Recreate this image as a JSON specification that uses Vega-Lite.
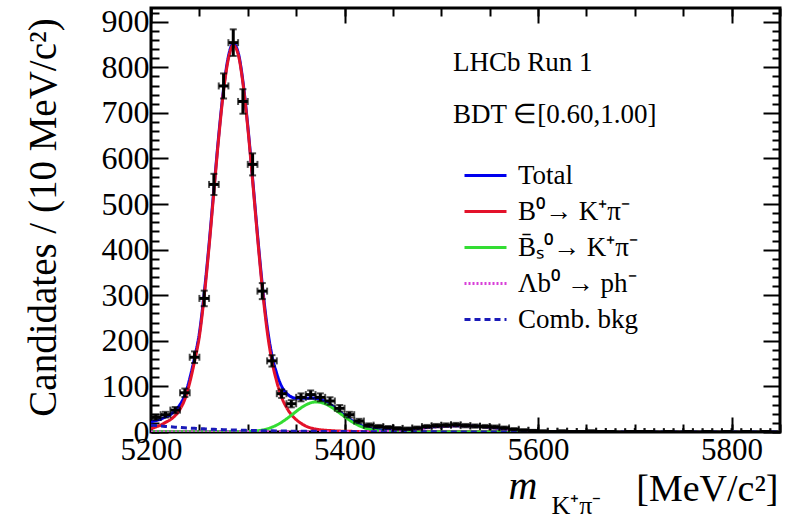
{
  "$schema": "https://vega.github.io/schema/vega-lite/v6.json",
  "width": 629,
  "height": 424,
  "autosize": {"type": "none"},
  "padding": {"left": 151, "top": 8, "right": 12, "bottom": 89},
  "background": "white",
  "config": {
    "font": "Liberation Serif",
    "view": {"stroke": "black", "strokeWidth": 3},
    "style": {"guide-label": {"font": "Liberation Serif", "fill": "black"}, "guide-title": {"font": "Liberation Serif", "fill": "black", "fontWeight": "normal"}},
    "axis": {"domain": false, "grid": false, "tickColor": "black", "tickWidth": 2, "labelColor": "black", "titleColor": "black", "labelFont": "Liberation Serif", "titleFont": "Liberation Serif", "titleFontWeight": "normal", "format": "d"},
    "legend": {"labelFont": "Liberation Serif", "titleFont": "Liberation Serif"}
  },
  "resolve": {"axis": {"x": "independent", "y": "independent"}},
  "datasets": {
    "curves": [
      {"m": 5200, "total": 22, "b0": 7, "bs": 0, "lb": 0, "comb": 15},
      {"m": 5205, "total": 25, "b0": 11, "bs": 0, "lb": 0, "comb": 14},
      {"m": 5210, "total": 28, "b0": 15, "bs": 0, "lb": 0, "comb": 13},
      {"m": 5215, "total": 33, "b0": 21, "bs": 0, "lb": 0, "comb": 12.2},
      {"m": 5220, "total": 38, "b0": 27, "bs": 0, "lb": 0, "comb": 11.4},
      {"m": 5225, "total": 47, "b0": 36, "bs": 0, "lb": 0, "comb": 10.6},
      {"m": 5230, "total": 60, "b0": 50, "bs": 0, "lb": 0, "comb": 9.9},
      {"m": 5235, "total": 81, "b0": 72, "bs": 0, "lb": 0, "comb": 9.2},
      {"m": 5240, "total": 117, "b0": 108, "bs": 0, "lb": 0, "comb": 8.6},
      {"m": 5245, "total": 163, "b0": 155, "bs": 0, "lb": 0, "comb": 8},
      {"m": 5250, "total": 217, "b0": 210, "bs": 0, "lb": 0, "comb": 7.4},
      {"m": 5255, "total": 305, "b0": 298, "bs": 0, "lb": 0, "comb": 6.9},
      {"m": 5260, "total": 412, "b0": 406, "bs": 0, "lb": 0, "comb": 6.4},
      {"m": 5265, "total": 533, "b0": 527, "bs": 0, "lb": 0, "comb": 5.9},
      {"m": 5270, "total": 651, "b0": 646, "bs": 0, "lb": 0, "comb": 5.5},
      {"m": 5275, "total": 753, "b0": 748, "bs": 0, "lb": 0, "comb": 5.1},
      {"m": 5280, "total": 824, "b0": 819, "bs": 0, "lb": 0, "comb": 4.7},
      {"m": 5285, "total": 852, "b0": 848, "bs": 0.1, "lb": 0, "comb": 4.4},
      {"m": 5290, "total": 833, "b0": 829, "bs": 0.2, "lb": 0, "comb": 4.1},
      {"m": 5295, "total": 769, "b0": 765, "bs": 0.4, "lb": 0, "comb": 3.8},
      {"m": 5300, "total": 672, "b0": 668, "bs": 0.8, "lb": 0, "comb": 3.5},
      {"m": 5305, "total": 556, "b0": 551, "bs": 1.4, "lb": 0, "comb": 3.3},
      {"m": 5310, "total": 435, "b0": 429, "bs": 2.6, "lb": 0, "comb": 3.1},
      {"m": 5315, "total": 323, "b0": 316, "bs": 4.3, "lb": 0, "comb": 2.9},
      {"m": 5320, "total": 232, "b0": 222, "bs": 6.9, "lb": 0, "comb": 2.7},
      {"m": 5325, "total": 168, "b0": 155, "bs": 10.5, "lb": 0, "comb": 2.5},
      {"m": 5330, "total": 128, "b0": 110, "bs": 15.3, "lb": 0, "comb": 2.3},
      {"m": 5335, "total": 100, "b0": 76, "bs": 21.4, "lb": 0, "comb": 2.2},
      {"m": 5340, "total": 85, "b0": 54, "bs": 28.7, "lb": 0, "comb": 2},
      {"m": 5345, "total": 77, "b0": 38, "bs": 36.7, "lb": 0, "comb": 1.9},
      {"m": 5350, "total": 74, "b0": 27, "bs": 45, "lb": 0, "comb": 1.8},
      {"m": 5355, "total": 74, "b0": 19, "bs": 52.9, "lb": 0, "comb": 1.7},
      {"m": 5360, "total": 74, "b0": 13, "bs": 59.4, "lb": 0, "comb": 1.6},
      {"m": 5365, "total": 74.5, "b0": 9, "bs": 64, "lb": 0, "comb": 1.5},
      {"m": 5370, "total": 74, "b0": 6.5, "bs": 66, "lb": 0, "comb": 1.4},
      {"m": 5375, "total": 71.4, "b0": 5, "bs": 65.1, "lb": 0, "comb": 1.3},
      {"m": 5380, "total": 67, "b0": 4, "bs": 61.9, "lb": 0, "comb": 1.2},
      {"m": 5385, "total": 60.7, "b0": 3.2, "bs": 56.4, "lb": 0, "comb": 1.1},
      {"m": 5390, "total": 53, "b0": 2.5, "bs": 49.4, "lb": 0, "comb": 1},
      {"m": 5395, "total": 44.7, "b0": 2, "bs": 41.6, "lb": 0.1, "comb": 1},
      {"m": 5400, "total": 36.4, "b0": 1.7, "bs": 33.7, "lb": 0.1, "comb": 0.9},
      {"m": 5405, "total": 28.8, "b0": 1.5, "bs": 26.2, "lb": 0.2, "comb": 0.85},
      {"m": 5410, "total": 21.8, "b0": 1.3, "bs": 19.5, "lb": 0.2, "comb": 0.8},
      {"m": 5415, "total": 16.2, "b0": 1.1, "bs": 14, "lb": 0.3, "comb": 0.75},
      {"m": 5420, "total": 11.9, "b0": 1, "bs": 9.7, "lb": 0.5, "comb": 0.7},
      {"m": 5425, "total": 8.8, "b0": 0.9, "bs": 6.5, "lb": 0.7, "comb": 0.65},
      {"m": 5430, "total": 6.5, "b0": 0.8, "bs": 4.1, "lb": 1, "comb": 0.6},
      {"m": 5435, "total": 5.1, "b0": 0.7, "bs": 2.6, "lb": 1.2, "comb": 0.55},
      {"m": 5440, "total": 4.2, "b0": 0.65, "bs": 1.5, "lb": 1.5, "comb": 0.5},
      {"m": 5445, "total": 4, "b0": 0.6, "bs": 0.9, "lb": 2, "comb": 0.48},
      {"m": 5450, "total": 3.9, "b0": 0.5, "bs": 0.45, "lb": 2.5, "comb": 0.45},
      {"m": 5460, "total": 5, "b0": 0.45, "bs": 0.1, "lb": 4, "comb": 0.4},
      {"m": 5470, "total": 6.8, "b0": 0.4, "bs": 0, "lb": 6, "comb": 0.36},
      {"m": 5480, "total": 8.7, "b0": 0.35, "bs": 0, "lb": 8, "comb": 0.33},
      {"m": 5490, "total": 11.1, "b0": 0.3, "bs": 0, "lb": 10.5, "comb": 0.3},
      {"m": 5500, "total": 12.5, "b0": 0.25, "bs": 0, "lb": 12, "comb": 0.27},
      {"m": 5510, "total": 13.5, "b0": 0.22, "bs": 0, "lb": 13, "comb": 0.24},
      {"m": 5520, "total": 13.9, "b0": 0.2, "bs": 0, "lb": 13.5, "comb": 0.22},
      {"m": 5530, "total": 13.4, "b0": 0.18, "bs": 0, "lb": 13, "comb": 0.2},
      {"m": 5540, "total": 12.3, "b0": 0.16, "bs": 0, "lb": 12, "comb": 0.18},
      {"m": 5550, "total": 10.3, "b0": 0.15, "bs": 0, "lb": 10, "comb": 0.16},
      {"m": 5560, "total": 8.3, "b0": 0.14, "bs": 0, "lb": 8, "comb": 0.15},
      {"m": 5570, "total": 5.8, "b0": 0.13, "bs": 0, "lb": 5.5, "comb": 0.13},
      {"m": 5580, "total": 3.7, "b0": 0.12, "bs": 0, "lb": 3.5, "comb": 0.12},
      {"m": 5590, "total": 2.2, "b0": 0.11, "bs": 0, "lb": 2, "comb": 0.11},
      {"m": 5600, "total": 1.2, "b0": 0.1, "bs": 0, "lb": 1, "comb": 0.1},
      {"m": 5620, "total": 0.5, "b0": 0.08, "bs": 0, "lb": 0.3, "comb": 0.08},
      {"m": 5650, "total": 0.2, "b0": 0.06, "bs": 0, "lb": 0.05, "comb": 0.06},
      {"m": 5700, "total": 0.1, "b0": 0.04, "bs": 0, "lb": 0, "comb": 0.04},
      {"m": 5750, "total": 0.06, "b0": 0.03, "bs": 0, "lb": 0, "comb": 0.03},
      {"m": 5800, "total": 0.04, "b0": 0.02, "bs": 0, "lb": 0, "comb": 0.02},
      {"m": 5850, "total": 0.02, "b0": 0.01, "bs": 0, "lb": 0, "comb": 0.01}
    ],
    "points": [
      {"m": 5205, "mlo": 5200, "mhi": 5210, "n": 32, "lo": 26.3, "hi": 37.7},
      {"m": 5215, "mlo": 5210, "mhi": 5220, "n": 38, "lo": 31.8, "hi": 44.2},
      {"m": 5225, "mlo": 5220, "mhi": 5230, "n": 48, "lo": 41.1, "hi": 54.9},
      {"m": 5235, "mlo": 5230, "mhi": 5240, "n": 86, "lo": 76.7, "hi": 95.3},
      {"m": 5245, "mlo": 5240, "mhi": 5250, "n": 164, "lo": 151.2, "hi": 176.8},
      {"m": 5255, "mlo": 5250, "mhi": 5260, "n": 293, "lo": 275.9, "hi": 310.1},
      {"m": 5265, "mlo": 5260, "mhi": 5270, "n": 543, "lo": 519.7, "hi": 566.3},
      {"m": 5275, "mlo": 5270, "mhi": 5280, "n": 759, "lo": 731.5, "hi": 786.5},
      {"m": 5285, "mlo": 5280, "mhi": 5290, "n": 854, "lo": 824.8, "hi": 883.2},
      {"m": 5295, "mlo": 5290, "mhi": 5300, "n": 725, "lo": 698.1, "hi": 751.9},
      {"m": 5305, "mlo": 5300, "mhi": 5310, "n": 587, "lo": 562.8, "hi": 611.2},
      {"m": 5315, "mlo": 5310, "mhi": 5320, "n": 309, "lo": 291.4, "hi": 326.6},
      {"m": 5325, "mlo": 5320, "mhi": 5330, "n": 156, "lo": 143.5, "hi": 168.5},
      {"m": 5335, "mlo": 5330, "mhi": 5340, "n": 84, "lo": 74.8, "hi": 93.2},
      {"m": 5345, "mlo": 5340, "mhi": 5350, "n": 62, "lo": 54.1, "hi": 69.9},
      {"m": 5355, "mlo": 5350, "mhi": 5360, "n": 76, "lo": 67.3, "hi": 84.7},
      {"m": 5365, "mlo": 5360, "mhi": 5370, "n": 82, "lo": 72.9, "hi": 91.1},
      {"m": 5375, "mlo": 5370, "mhi": 5380, "n": 76, "lo": 67.3, "hi": 84.7},
      {"m": 5385, "mlo": 5380, "mhi": 5390, "n": 68, "lo": 59.8, "hi": 76.2},
      {"m": 5395, "mlo": 5390, "mhi": 5400, "n": 52, "lo": 44.8, "hi": 59.2},
      {"m": 5405, "mlo": 5400, "mhi": 5410, "n": 38, "lo": 31.8, "hi": 44.2},
      {"m": 5415, "mlo": 5410, "mhi": 5420, "n": 24, "lo": 19.1, "hi": 28.9},
      {"m": 5425, "mlo": 5420, "mhi": 5430, "n": 15, "lo": 11.1, "hi": 18.9},
      {"m": 5435, "mlo": 5430, "mhi": 5440, "n": 12, "lo": 8.5, "hi": 15.5},
      {"m": 5445, "mlo": 5440, "mhi": 5450, "n": 10, "lo": 6.8, "hi": 13.2},
      {"m": 5455, "mlo": 5450, "mhi": 5460, "n": 8, "lo": 5.2, "hi": 10.8},
      {"m": 5465, "mlo": 5460, "mhi": 5470, "n": 7, "lo": 4.4, "hi": 9.6},
      {"m": 5475, "mlo": 5470, "mhi": 5480, "n": 9, "lo": 6, "hi": 12},
      {"m": 5485, "mlo": 5480, "mhi": 5490, "n": 12, "lo": 8.5, "hi": 15.5},
      {"m": 5495, "mlo": 5490, "mhi": 5500, "n": 14, "lo": 10.3, "hi": 17.7},
      {"m": 5505, "mlo": 5500, "mhi": 5510, "n": 15, "lo": 11.1, "hi": 18.9},
      {"m": 5515, "mlo": 5510, "mhi": 5520, "n": 16, "lo": 12, "hi": 20},
      {"m": 5525, "mlo": 5520, "mhi": 5530, "n": 14, "lo": 10.3, "hi": 17.7},
      {"m": 5535, "mlo": 5530, "mhi": 5540, "n": 13, "lo": 9.4, "hi": 16.6},
      {"m": 5545, "mlo": 5540, "mhi": 5550, "n": 12, "lo": 8.5, "hi": 15.5},
      {"m": 5555, "mlo": 5550, "mhi": 5560, "n": 11, "lo": 7.7, "hi": 14.3},
      {"m": 5565, "mlo": 5560, "mhi": 5570, "n": 9, "lo": 6, "hi": 12},
      {"m": 5575, "mlo": 5570, "mhi": 5580, "n": 6, "lo": 3.6, "hi": 8.4},
      {"m": 5585, "mlo": 5580, "mhi": 5590, "n": 4, "lo": 2, "hi": 6},
      {"m": 5595, "mlo": 5590, "mhi": 5600, "n": 3, "lo": 1.3, "hi": 4.7},
      {"m": 5605, "mlo": 5600, "mhi": 5610, "n": 2, "lo": 0.6, "hi": 3.4},
      {"m": 5615, "mlo": 5610, "mhi": 5620, "n": 1, "lo": 0, "hi": 2},
      {"m": 5625, "mlo": 5620, "mhi": 5630, "n": 2, "lo": 0.6, "hi": 3.4},
      {"m": 5635, "mlo": 5630, "mhi": 5640, "n": 1, "lo": 0, "hi": 2},
      {"m": 5645, "mlo": 5640, "mhi": 5650, "n": 1, "lo": 0, "hi": 2},
      {"m": 5655, "mlo": 5650, "mhi": 5660, "n": 2, "lo": 0.6, "hi": 3.4},
      {"m": 5665, "mlo": 5660, "mhi": 5670, "n": 1, "lo": 0, "hi": 2},
      {"m": 5675, "mlo": 5670, "mhi": 5680, "n": 1, "lo": 0, "hi": 2},
      {"m": 5685, "mlo": 5680, "mhi": 5690, "n": 0, "lo": 0, "hi": 0},
      {"m": 5695, "mlo": 5690, "mhi": 5700, "n": 1, "lo": 0, "hi": 2},
      {"m": 5705, "mlo": 5700, "mhi": 5710, "n": 1, "lo": 0, "hi": 2},
      {"m": 5715, "mlo": 5710, "mhi": 5720, "n": 1, "lo": 0, "hi": 2},
      {"m": 5725, "mlo": 5720, "mhi": 5730, "n": 0, "lo": 0, "hi": 0},
      {"m": 5735, "mlo": 5730, "mhi": 5740, "n": 1, "lo": 0, "hi": 2},
      {"m": 5745, "mlo": 5740, "mhi": 5750, "n": 0, "lo": 0, "hi": 0},
      {"m": 5755, "mlo": 5750, "mhi": 5760, "n": 1, "lo": 0, "hi": 2},
      {"m": 5765, "mlo": 5760, "mhi": 5770, "n": 0, "lo": 0, "hi": 0},
      {"m": 5775, "mlo": 5770, "mhi": 5780, "n": 1, "lo": 0, "hi": 2},
      {"m": 5785, "mlo": 5780, "mhi": 5790, "n": 0, "lo": 0, "hi": 0},
      {"m": 5795, "mlo": 5790, "mhi": 5800, "n": 1, "lo": 0, "hi": 2},
      {"m": 5805, "mlo": 5800, "mhi": 5810, "n": 0, "lo": 0, "hi": 0},
      {"m": 5815, "mlo": 5810, "mhi": 5820, "n": 1, "lo": 0, "hi": 2},
      {"m": 5825, "mlo": 5820, "mhi": 5830, "n": 0, "lo": 0, "hi": 0},
      {"m": 5835, "mlo": 5830, "mhi": 5840, "n": 1, "lo": 0, "hi": 2},
      {"m": 5845, "mlo": 5840, "mhi": 5850, "n": 0, "lo": 0, "hi": 0}
    ]
  },
  "layer": [
    {
      "data": {"name": "curves"},
      "transform": [
        {"fold": ["total", "b0", "bs", "lb", "comb"], "as": ["comp", "val"]},
        {"filter": "datum.comp == 'total'"}
      ],
      "mark": {"type": "line", "strokeWidth": 3, "interpolate": "monotone", "clip": true},
      "encoding": {
        "x": {"field": "m", "type": "quantitative", "scale": {"domain": [5200, 5850], "nice": false, "zero": false},
          "axis": {"orient": "bottom", "values": [5200, 5400, 5600, 5800], "format": "d", "tickSize": -15, "labelFont": "Liberation Serif", "labelFontSize": 31, "labelPadding": 18, "labelFlush": false,
            "title": "[MeV/c²]", "titleFont": "Liberation Serif", "titleFontSize": 38, "titleX": 627, "titleY": 68, "titleAlign": "right", "titleBaseline": "alphabetic", "titleAngle": 0}},
        "y": {"field": "val", "type": "quantitative", "scale": {"domain": [0, 930], "nice": false},
          "axis": {"orient": "left", "values": [0, 100, 200, 300, 400, 500, 600, 700, 800, 900], "format": "d", "tickSize": -17, "labelFont": "Liberation Serif", "labelFontSize": 32, "labelPadding": 19, "labelFlush": false,
            "title": "Candidates / (10 MeV/c²)", "titleFont": "Liberation Serif", "titleFontSize": 39, "titleX": -108, "titleY": 209, "titleAngle": -90, "titleAlign": "center", "titleBaseline": "middle"}},
        "color": {"field": "comp", "type": "nominal",
          "scale": {"domain": ["total", "b0", "bs", "lb", "comb"], "range": ["#0000ee", "#e3122a", "#33dd33", "#d83fd8", "#1a1ab8"]},
          "legend": {"orient": "none", "legendX": 302, "legendY": 42, "padding": 0,
            "title": ["LHCb Run 1", "BDT ∈[0.60,1.00]"], "titleFont": "Liberation Serif", "titleFontSize": 27, "titleFontWeight": "normal", "titleLineHeight": 52, "titlePadding": 24, "titleColor": "black", "titleLimit": 500,
            "labelFont": "Liberation Serif", "labelFontSize": 27, "labelColor": "black", "labelOffset": 10, "labelLimit": 300, "symbolType": "stroke", "symbolSize": 1764, "symbolStrokeWidth": 3, "symbolOffset": 10, "rowPadding": 0,
            "labelExpr": "datum.label == 'total' ? 'Total' : datum.label == 'b0' ? 'B⁰→ K⁺π⁻' : datum.label == 'bs' ? 'B̄ₛ⁰→ K⁺π⁻' : datum.label == 'lb' ? 'Λb⁰ → ph⁻' : 'Comb. bkg'"}},
        "strokeDash": {"field": "comp", "type": "nominal",
          "scale": {"domain": ["total", "b0", "bs", "lb", "comb"], "range": [[1, 0], [1, 0], [1, 0], [2, 2], [6, 4]]},
          "legend": {"orient": "none", "legendX": 302, "legendY": 42, "padding": 0,
            "title": ["LHCb Run 1", "BDT ∈[0.60,1.00]"], "titleFont": "Liberation Serif", "titleFontSize": 27, "titleFontWeight": "normal", "titleLineHeight": 52, "titlePadding": 24, "titleColor": "black", "titleLimit": 500,
            "labelFont": "Liberation Serif", "labelFontSize": 27, "labelColor": "black", "labelOffset": 10, "labelLimit": 300, "symbolType": "stroke", "symbolSize": 1764, "symbolStrokeWidth": 3, "symbolOffset": 10, "rowPadding": 0,
            "labelExpr": "datum.label == 'total' ? 'Total' : datum.label == 'b0' ? 'B⁰→ K⁺π⁻' : datum.label == 'bs' ? 'B̄ₛ⁰→ K⁺π⁻' : datum.label == 'lb' ? 'Λb⁰ → ph⁻' : 'Comb. bkg'"}}
      }
    },
    {
      "data": {"name": "curves"},
      "transform": [
        {"fold": ["total", "b0", "bs", "lb", "comb"], "as": ["comp", "val"]},
        {"filter": "datum.comp != 'total'"}
      ],
      "mark": {"type": "line", "strokeWidth": 3, "interpolate": "monotone", "clip": true},
      "encoding": {
        "x": {"field": "m", "type": "quantitative", "scale": {"domain": [5200, 5850], "nice": false, "zero": false},
          "axis": {"orient": "bottom", "values": [5200, 5250, 5300, 5350, 5400, 5450, 5500, 5550, 5600, 5650, 5700, 5750, 5800, 5850], "tickSize": -8, "labels": false,
            "title": "K⁺π⁻", "titleFont": "Liberation Serif", "titleFontSize": 26, "titleX": 450, "titleY": 81, "titleAlign": "right", "titleBaseline": "alphabetic", "titleAngle": 0}},
        "y": {"field": "val", "type": "quantitative", "scale": {"domain": [0, 930], "nice": false},
          "axis": {"orient": "left", "values": [0, 20, 40, 60, 80, 120, 140, 160, 180, 220, 240, 260, 280, 320, 340, 360, 380, 420, 440, 460, 480, 520, 540, 560, 580, 620, 640, 660, 680, 720, 740, 760, 780, 820, 840, 860, 880, 920], "tickSize": -8, "labels": false, "title": null}},
        "color": {"field": "comp", "type": "nominal", "scale": {"domain": ["total", "b0", "bs", "lb", "comb"], "range": ["#0000ee", "#e3122a", "#33dd33", "#d83fd8", "#1a1ab8"]}},
        "strokeDash": {"field": "comp", "type": "nominal", "scale": {"domain": ["total", "b0", "bs", "lb", "comb"], "range": [[1, 0], [1, 0], [1, 0], [2, 2], [6, 4]]}}
      }
    },
    {
      "data": {"name": "points"},
      "mark": {"type": "rule", "color": "black", "strokeWidth": 3, "clip": true},
      "encoding": {
        "x": {"field": "m", "type": "quantitative", "scale": {"domain": [5200, 5850], "nice": false, "zero": false},
          "axis": {"orient": "top", "values": [5200, 5400, 5600, 5800], "tickSize": -15, "labels": false,
            "title": "m", "titleFont": "Liberation Serif", "titleFontSize": 40, "titleFontStyle": "italic", "titleX": 386, "titleY": 490, "titleAlign": "right", "titleBaseline": "alphabetic", "titleAngle": 0}},
        "y": {"field": "lo", "type": "quantitative", "scale": {"domain": [0, 930], "nice": false},
          "axis": {"orient": "right", "values": [0, 100, 200, 300, 400, 500, 600, 700, 800, 900], "tickSize": -17, "labels": false, "title": null}},
        "y2": {"field": "hi"}
      }
    },
    {
      "data": {"name": "points"},
      "mark": {"type": "rule", "color": "black", "strokeWidth": 3, "clip": true},
      "encoding": {
        "x": {"field": "mlo", "type": "quantitative", "scale": {"domain": [5200, 5850], "nice": false, "zero": false},
          "axis": {"orient": "top", "values": [5200, 5250, 5300, 5350, 5400, 5450, 5500, 5550, 5600, 5650, 5700, 5750, 5800, 5850], "tickSize": -8, "labels": false, "title": null}},
        "x2": {"field": "mhi"},
        "y": {"field": "n", "type": "quantitative", "scale": {"domain": [0, 930], "nice": false},
          "axis": {"orient": "right", "values": [0, 20, 40, 60, 80, 120, 140, 160, 180, 220, 240, 260, 280, 320, 340, 360, 380, 420, 440, 460, 480, 520, 540, 560, 580, 620, 640, 660, 680, 720, 740, 760, 780, 820, 840, 860, 880, 920], "tickSize": -8, "labels": false, "title": null}}
      }
    },
    {
      "data": {"name": "points"},
      "transform": [{"fold": ["lo", "hi"], "as": ["end", "yv"]}, {"filter": "datum.n > 0"}],
      "mark": {"type": "tick", "orient": "horizontal", "color": "black", "size": 7, "thickness": 2, "clip": true},
      "encoding": {
        "x": {"field": "m", "type": "quantitative", "scale": {"domain": [5200, 5850], "nice": false, "zero": false}, "axis": null},
        "y": {"field": "yv", "type": "quantitative", "scale": {"domain": [0, 930], "nice": false}, "axis": null}
      }
    },
    {
      "data": {"name": "points"},
      "transform": [{"fold": ["mlo", "mhi"], "as": ["end", "xv"]}],
      "mark": {"type": "tick", "orient": "vertical", "color": "black", "size": 7, "thickness": 2, "clip": true},
      "encoding": {
        "x": {"field": "xv", "type": "quantitative", "scale": {"domain": [5200, 5850], "nice": false, "zero": false}, "axis": null},
        "y": {"field": "n", "type": "quantitative", "scale": {"domain": [0, 930], "nice": false}, "axis": null}
      }
    }
  ]
}
